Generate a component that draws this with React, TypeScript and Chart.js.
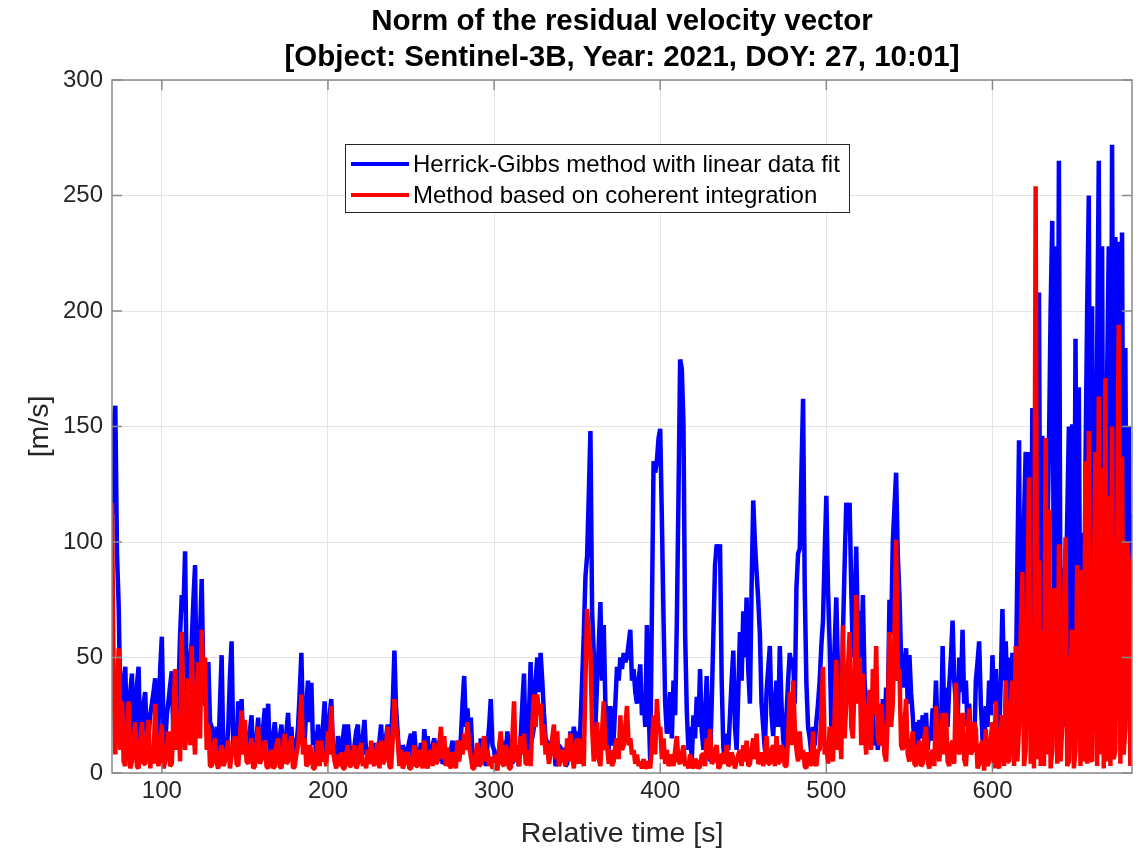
import { useEffect, useRef } from "react";
import { Chart, registerables } from "chart.js";

Chart.register(...registerables);

// Sampling grid of the residual series (relative time, seconds)
const T_START = 70;
const T_STEP = 1;

// Herrick-Gibbs method with linear data fit, |dv| in m/s (one row = 20 s)
const HG_VALUES = [
  112, 150, 159, 95, 73, 30, 28, 40, 46, 15, 20, 35, 43, 10, 18, 38, 46, 12, 22, 30,
  35, 12, 16, 25, 30, 35, 41, 15, 20, 45, 59, 20, 12, 25, 31, 38, 44, 14, 20, 28,
  35, 60, 77, 70, 96, 35, 40, 48, 57, 75, 90, 30, 53, 60, 84, 40, 29, 35, 48, 22,
  20, 6, 12, 20, 8, 30, 51, 10, 15, 8, 20, 42, 57, 12, 22, 10, 31, 18, 32, 12,
  20, 8, 12, 18, 25, 6, 10, 15, 24, 5, 12, 20, 28, 14, 30, 8, 10, 16, 22, 12,
  8, 15, 21, 5, 12, 18, 26, 10, 20, 6, 15, 12, 20, 35, 52, 18, 14, 30, 40, 22,
  39, 12, 18, 6, 21, 10, 8, 20, 31, 8, 12, 25, 32, 10, 12, 5, 16, 12, 6, 15,
  21, 8, 21, 12, 6, 4, 12, 18, 21, 5, 10, 16, 23, 8, 11, 4, 6, 10, 13, 5,
  8, 14, 21, 6, 11, 16, 21, 8, 14, 30, 53, 28, 17, 6, 5, 12, 10, 4, 10, 14,
  17, 6, 18, 8, 3, 8, 13, 5, 19, 10, 16, 4, 6, 12, 15, 5, 8, 14, 12, 4,
  5, 10, 8, 3, 10, 14, 5, 8, 14, 6, 15, 30, 42, 20, 28, 15, 24, 8, 5, 3,
  8, 4, 15, 6, 10, 3, 12, 20, 32, 12, 10, 3, 4, 10, 16, 6, 14, 8, 18, 10,
  10, 4, 8, 12, 6, 3, 15, 30, 43, 12, 5, 25, 48, 15, 20, 40, 50, 35, 52, 40,
  26, 15, 13, 6, 14, 8, 15, 3, 5, 12, 11, 6, 11, 3, 4, 10, 18, 12, 20, 14,
  18, 8, 21, 40, 60, 85, 94, 120, 148, 70, 52, 20, 39, 55, 74, 40, 64, 30, 25, 10,
  29, 12, 15, 30, 46, 40, 50, 45, 52, 48, 50, 56, 62, 40, 45, 35, 30, 40, 47, 25,
  32, 20, 64, 30, 4, 70, 135, 130, 135, 145, 149, 110, 67, 30, 17, 25, 35, 15, 40, 25,
  65, 120, 179, 175, 151, 60, 27, 10, 20, 5, 25, 15, 33, 20, 45, 18, 10, 25, 42, 15,
  5, 30, 60, 90, 99, 95, 99, 40, 11, 6, 17, 10, 25, 40, 53, 20, 10, 35, 61, 40,
  70, 50, 76, 45, 30, 80, 118, 100, 87, 75, 60, 30, 20, 10, 35, 45, 55, 25, 16, 30,
  40, 20, 55, 30, 15, 8, 25, 40, 52, 45, 50, 30, 80, 95, 97, 130, 162, 80, 39, 20,
  15, 8, 20, 12, 22, 30, 40, 55, 66, 95, 120, 80, 56, 20, 31, 55, 76, 45, 27, 15,
  60, 90, 117, 110, 117, 80, 50, 70, 98, 60, 70, 45, 77, 40, 27, 15, 35, 20, 27, 12,
  20, 10, 20, 12, 32, 15, 37, 25, 75, 60, 100, 115, 130, 95, 77, 50, 37, 45, 54, 30,
  51, 35, 25, 12, 22, 10, 23, 15, 25, 12, 26, 10, 20, 14, 28, 20, 40, 18, 27, 15,
  55, 25, 37, 20, 38, 50, 66, 40, 30, 20, 50, 35, 62, 30, 40, 20, 30, 12, 22, 10,
  40, 48, 57, 30, 15, 8, 29, 20, 40, 25, 51, 30, 45, 20, 15, 40, 71, 40, 57, 30,
  50, 20, 52, 15, 33, 90, 144, 30, 60, 110, 139, 25, 139, 40, 158, 30, 92, 150, 208, 40,
  146, 20, 61, 100, 140, 200, 239, 60, 228, 80, 265, 50, 89, 20, 70, 110, 150, 30, 151, 40,
  188, 50, 167, 30, 104, 25, 134, 200, 250, 60, 202, 40, 108, 180, 265, 70, 228, 40, 100, 170,
  228, 60, 272, 80, 232, 50, 230, 90, 234, 60, 184, 40, 150, 30, 112,
];

// Method based on coherent integration, |dv| in m/s (one row = 20 s)
const CI_VALUES = [
  117, 40, 8, 30, 54, 10, 31, 5, 3, 18, 31, 2, 5, 14, 22, 3, 2, 12, 22, 4,
  4, 15, 23, 2, 10, 4, 30, 8, 3, 12, 21, 2, 5, 10, 18, 3, 4, 25, 45, 10,
  25, 5, 61, 20, 10, 30, 41, 12, 55, 20, 8, 35, 48, 15, 62, 40, 50, 10, 21, 3,
  3, 10, 15, 4, 2, 8, 12, 3, 5, 10, 14, 2, 8, 12, 16, 4, 3, 15, 27, 8,
  23, 5, 4, 10, 15, 2, 3, 12, 20, 4, 6, 10, 14, 3, 2, 8, 10, 2, 3, 12,
  15, 3, 2, 10, 17, 4, 5, 12, 16, 2, 3, 8, 12, 20, 34, 8, 15, 3, 4, 12,
  10, 2, 2, 8, 14, 3, 14, 5, 8, 3, 18, 8, 29, 10, 5, 2, 8, 3, 9, 2,
  2, 8, 12, 3, 3, 9, 12, 2, 4, 10, 13, 3, 6, 2, 10, 4, 14, 5, 3, 9,
  13, 2, 14, 4, 5, 12, 20, 3, 2, 15, 32, 20, 15, 3, 10, 2, 4, 9, 8, 2,
  2, 7, 12, 3, 3, 10, 8, 2, 14, 5, 2, 8, 10, 3, 13, 4, 5, 12, 20, 6,
  16, 3, 11, 4, 2, 9, 7, 2, 14, 5, 14, 8, 17, 10, 22, 12, 7, 2, 2, 8,
  13, 3, 4, 10, 16, 5, 10, 3, 7, 2, 3, 8, 1, 10, 18, 4, 3, 12, 9, 2,
  2, 15, 31, 5, 6, 3, 16, 8, 17, 4, 4, 10, 3, 20, 34, 20, 34, 25, 30, 12,
  21, 8, 13, 4, 8, 15, 21, 6, 18, 3, 5, 10, 8, 3, 15, 5, 17, 8, 2, 10,
  15, 4, 15, 8, 3, 40, 71, 60, 52, 20, 5, 12, 22, 6, 3, 18, 31, 10, 12, 4,
  10, 3, 5, 12, 15, 6, 25, 10, 12, 20, 29, 12, 15, 8, 10, 4, 8, 3, 5, 2,
  6, 2, 3, 5, 2, 12, 25, 8, 32, 18, 20, 6, 15, 4, 10, 3, 5, 8, 3, 10,
  16, 5, 4, 8, 12, 3, 5, 2, 8, 4, 2, 6, 5, 2, 3, 8, 8, 3, 15, 6,
  19, 4, 5, 10, 12, 2, 3, 8, 8, 4, 12, 3, 4, 9, 6, 2, 5, 8, 10, 3,
  12, 5, 14, 3, 4, 10, 15, 6, 17, 4, 5, 9, 3, 8, 16, 4, 4, 10, 12, 3,
  16, 4, 5, 12, 10, 3, 3, 15, 35, 12, 40, 20, 10, 5, 18, 6, 10, 3, 2, 9,
  6, 3, 18, 5, 3, 10, 10, 25, 46, 8, 12, 4, 20, 8, 5, 25, 49, 10, 20, 6,
  64, 15, 30, 45, 61, 20, 15, 40, 77, 30, 50, 12, 43, 20, 8, 25, 36, 10, 45, 25,
  55, 15, 12, 30, 20, 8, 5, 25, 61, 20, 30, 60, 101, 40, 45, 12, 10, 20, 32, 8,
  5, 12, 18, 4, 3, 10, 14, 3, 4, 15, 20, 5, 2, 8, 10, 3, 29, 10, 5, 15,
  26, 8, 26, 5, 3, 12, 14, 4, 39, 15, 8, 20, 26, 6, 3, 15, 28, 8, 10, 22,
  19, 2, 4, 12, 14, 1, 19, 3, 5, 15, 22, 2, 31, 4, 2, 18, 25, 3, 40, 5,
  5, 30, 40, 3, 55, 5, 20, 60, 87, 3, 10, 70, 128, 4, 30, 2, 254, 6, 92, 3,
  62, 3, 145, 8, 114, 2, 10, 80, 60, 4, 99, 5, 20, 70, 102, 3, 5, 45, 62, 2,
  10, 90, 62, 3, 88, 5, 135, 4, 148, 6, 5, 80, 139, 3, 163, 8, 132, 2, 171, 5,
  120, 3, 150, 6, 10, 90, 194, 4, 137, 8, 20, 100, 92, 3, 56,
];

const X_TICKS = [100, 200, 300, 400, 500, 600];
const Y_TICKS = [0, 50, 100, 150, 200, 250, 300];
const X_RANGE = [70, 684];
const Y_RANGE = [0, 300];

const TITLE_LINES = [
  "Norm of the residual velocity vector",
  "[Object: Sentinel-3B, Year: 2021, DOY: 27, 10:01]",
];
const X_LABEL = "Relative time [s]";
const Y_LABEL = "[m/s]";
const SERIES_LABELS = [
  "Herrick-Gibbs method with linear data fit",
  "Method based on coherent integration",
];

const FONT = '"Liberation Sans", Arial, Helvetica, sans-serif';
const TEXT_COLOR = "#262626";
const AXIS_COLOR = "#8a8a8a";
const GRID_COLOR = "#e4e4e4";
const BLUE = "#0000ff";
const RED = "#ff0000";
const TICK_LEN = 10;
const LINE_WIDTH = 4.5;

const times = HG_VALUES.map((_, i) => T_START + i * T_STEP);

const framePlugin = {
  id: "matlabFrame",
  beforeDraw(chart: any) {
    const { ctx } = chart;
    ctx.save();
    ctx.fillStyle = "#ffffff";
    ctx.fillRect(0, 0, chart.width, chart.height);
    ctx.restore();
  },
  afterDatasetsDraw(chart: any) {
    const { ctx, chartArea, scales } = chart;
    const { left, right, top, bottom } = chartArea;
    ctx.save();
    ctx.strokeStyle = AXIS_COLOR;
    ctx.lineWidth = 1.5;
    ctx.strokeRect(left, top, right - left, bottom - top);
    ctx.beginPath();
    for (const v of X_TICKS) {
      const px = scales.x.getPixelForValue(v);
      ctx.moveTo(px, bottom);
      ctx.lineTo(px, bottom - TICK_LEN);
      ctx.moveTo(px, top);
      ctx.lineTo(px, top + TICK_LEN);
    }
    for (const v of Y_TICKS) {
      const py = scales.y.getPixelForValue(v);
      ctx.moveTo(left, py);
      ctx.lineTo(left + TICK_LEN, py);
      ctx.moveTo(right, py);
      ctx.lineTo(right - TICK_LEN, py);
    }
    ctx.stroke();
    ctx.restore();
  },
  afterDraw(chart: any) {
    const { ctx, chartArea } = chart;
    const { left, right, top, bottom } = chartArea;
    const cx = (left + right) / 2;
    ctx.save();

    // Title
    ctx.fillStyle = "#000000";
    ctx.font = `bold 29.5px ${FONT}`;
    ctx.textAlign = "center";
    ctx.textBaseline = "middle";
    ctx.fillText(TITLE_LINES[0], cx, 22);
    ctx.fillText(TITLE_LINES[1], cx, 58);

    // Axis labels
    ctx.fillStyle = TEXT_COLOR;
    ctx.font = `28.5px ${FONT}`;
    ctx.fillText(X_LABEL, cx, 834);
    ctx.save();
    ctx.translate(40, (top + bottom) / 2);
    ctx.rotate(-Math.PI / 2);
    ctx.fillText(Y_LABEL, 0, 0);
    ctx.restore();

    // Legend
    const lx = 345;
    const ly = 144;
    const lw = 504;
    const lh = 68;
    ctx.fillStyle = "#ffffff";
    ctx.fillRect(lx, ly, lw, lh);
    ctx.strokeStyle = "#262626";
    ctx.lineWidth = 1;
    ctx.strokeRect(lx + 0.5, ly + 0.5, lw, lh);
    const rows = [ly + 20, ly + 51];
    const colors = [BLUE, RED];
    ctx.font = `24px ${FONT}`;
    ctx.textAlign = "left";
    ctx.textBaseline = "middle";
    SERIES_LABELS.forEach((label, i) => {
      ctx.strokeStyle = colors[i];
      ctx.lineWidth = 4;
      ctx.beginPath();
      ctx.moveTo(lx + 6, rows[i]);
      ctx.lineTo(lx + 64, rows[i]);
      ctx.stroke();
      ctx.fillStyle = "#000000";
      ctx.fillText(label, lx + 68, rows[i] + 1);
    });
    ctx.restore();
  },
};

export default function App() {
  const canvasRef = useRef<HTMLCanvasElement | null>(null);

  useEffect(() => {
    const canvas = canvasRef.current;
    if (!canvas) return;
    const chart = new Chart(canvas, {
      type: "line",
      data: {
        datasets: [
          {
            label: SERIES_LABELS[1],
            data: times.map((t, i) => ({ x: t, y: CI_VALUES[i] })),
            borderColor: RED,
            backgroundColor: RED,
            borderWidth: LINE_WIDTH,
            borderJoinStyle: "bevel",
            pointRadius: 0,
            tension: 0,
            order: 0,
          },
          {
            label: SERIES_LABELS[0],
            data: times.map((t, i) => ({ x: t, y: HG_VALUES[i] })),
            borderColor: BLUE,
            backgroundColor: BLUE,
            borderWidth: LINE_WIDTH,
            borderJoinStyle: "bevel",
            pointRadius: 0,
            tension: 0,
            order: 1,
          },
        ],
      },
      options: {
        animation: false,
        responsive: false,
        devicePixelRatio: 1,
        layout: { padding: { top: 80, right: 6, left: 0, bottom: 0 } },
        plugins: {
          legend: { display: false },
          title: { display: false },
          tooltip: { enabled: false },
        },
        scales: {
          x: {
            type: "linear",
            min: X_RANGE[0],
            max: X_RANGE[1],
            afterBuildTicks: (s: any) => {
              s.ticks = X_TICKS.map((v) => ({ value: v }));
            },
            afterFit: (s: any) => {
              s.height = 80;
            },
            grid: { color: GRID_COLOR, lineWidth: 1, drawTicks: false },
            border: { display: false },
            ticks: {
              color: TEXT_COLOR,
              font: { family: FONT, size: 24 },
              padding: 4,
              maxRotation: 0,
              callback: (v: any) => String(v),
            },
          },
          y: {
            type: "linear",
            min: Y_RANGE[0],
            max: Y_RANGE[1],
            afterBuildTicks: (s: any) => {
              s.ticks = Y_TICKS.map((v) => ({ value: v }));
            },
            afterFit: (s: any) => {
              s.width = 112;
            },
            grid: { color: GRID_COLOR, lineWidth: 1, drawTicks: false },
            border: { display: false },
            ticks: {
              color: TEXT_COLOR,
              font: { family: FONT, size: 24 },
              padding: 9,
              callback: (v: any) => String(v),
            },
          },
        },
      },
      plugins: [framePlugin],
    });
    return () => chart.destroy();
  }, []);

  return (
    <div style={{ position: "absolute", left: 0, top: 0, width: 1138, height: 853 }}>
      <canvas ref={canvasRef} width={1138} height={853} style={{ display: "block" }} />
    </div>
  );
}
